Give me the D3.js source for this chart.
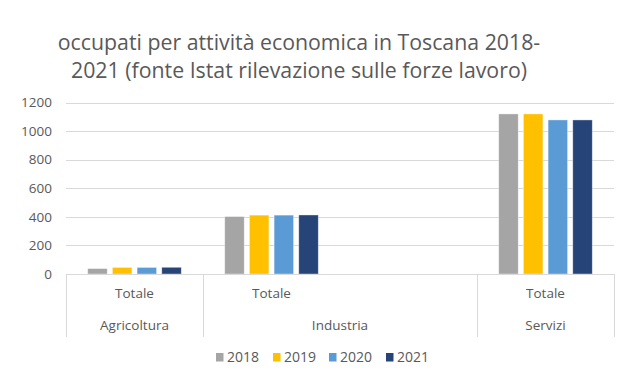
<!DOCTYPE html>
<html>
<head>
<meta charset="utf-8">
<script src="https://cdn.jsdelivr.net/npm/d3@7/dist/d3.min.js"></script>
<style>
  html, body { margin: 0; padding: 0; background: #fff; }
  svg { display: block; }
  text { font-family: "Open Sans", sans-serif; fill: #595959; }
</style>
</head>
<body>
<svg id="chart" width="629" height="376"></svg>
<script>
// ---- data ----
const titleLines = ["occupati per attività economica in Toscana 2018-", "2021 (fonte Istat rilevazione sulle forze lavoro)"];
const groups = ["Agricoltura", "Industria", "Industria", "Servizi"];
const subcategories = ["Totale", "Totale", "", "Totale"];
const years = ["2018", "2019", "2020", "2021"];
const values2018 = [38, 402, null, 1120];
const values2019 = [46, 412, null, 1120];
const values2020 = [46, 412, null, 1078];
const values2021 = [47, 413, null, 1078];
const yTicks = [0, 200, 400, 600, 800, 1000, 1200];

const series = [values2018, values2019, values2020, values2021];
const colors = ["#A5A5A5", "#FFC000", "#5B9BD5", "#264478"];

const svg = d3.select("#chart");
const plotLeft = 66, plotRight = 614, plotTop = 102.5, plotBottom = 274;

const slots = subcategories.map((s, i) => i);
const x = d3.scaleBand().domain(slots).range([plotLeft, plotRight]).padding(0);
const xi = d3.scaleBand().domain(years).range([0, x.bandwidth()]).paddingInner(0.21).paddingOuter(0.88);
const y = d3.scaleLinear().domain([0, 1200]).range([plotBottom, plotTop]);

// title
const title = svg.append("text").attr("text-anchor", "middle").style("font-size", "21.3px");
titleLines.forEach((t, i) => {
  title.append("tspan").attr("x", 299).attr("y", 50 + i * 28).text(t);
});

// gridlines
svg.append("g").selectAll("line").data(yTicks.filter(d => d > 0)).join("line")
  .attr("x1", plotLeft).attr("x2", plotRight)
  .attr("y1", d => Math.round(y(d)) + 0.5).attr("y2", d => Math.round(y(d)) + 0.5)
  .attr("stroke", "#D9D9D9").attr("stroke-width", 1);

// y axis labels
const yAxis = d3.axisLeft(y).tickValues(yTicks).tickFormat(d3.format("d")).tickSize(0).tickPadding(14);
const gy = svg.append("g").attr("transform", `translate(${plotLeft},0)`).call(yAxis);
gy.select(".domain").remove();
gy.selectAll("text").style("font-size", "13.5px").attr("fill", "#595959").style("font-family", "'Open Sans', sans-serif");

// bars
const barG = svg.append("g");
series.forEach((vals, si) => {
  barG.append("g").selectAll("rect")
    .data(vals.map((v, i) => ({ v, i })).filter(d => d.v !== null))
    .join("rect")
    .attr("x", d => x(d.i) + xi(years[si]))
    .attr("width", xi.bandwidth())
    .attr("y", d => y(d.v))
    .attr("height", d => y(0) - y(d.v))
    .attr("fill", colors[si])
    .attr("stroke", "#ffffff").attr("stroke-opacity", 0.5).attr("stroke-width", 0.75);
});

// category axis baseline
svg.append("line").attr("x1", plotLeft).attr("x2", plotRight)
  .attr("y1", plotBottom + 0.5).attr("y2", plotBottom + 0.5)
  .attr("stroke", "#D9D9D9");

// group spans
const spans = [];
groups.forEach((g, i) => {
  if (spans.length && spans[spans.length - 1].name === g) spans[spans.length - 1].end = i;
  else spans.push({ name: g, start: i, end: i });
});
const sepX = [plotLeft];
spans.forEach(s => sepX.push(x(s.end) + x.bandwidth()));
svg.append("g").selectAll("line").data(sepX).join("line")
  .attr("x1", d => Math.round(d) + 0.5).attr("x2", d => Math.round(d) + 0.5)
  .attr("y1", plotBottom).attr("y2", 337)
  .attr("stroke", "#D9D9D9");

// sub labels
svg.append("g").selectAll("text").data(subcategories.map((s, i) => ({ s, i })).filter(d => d.s))
  .join("text")
  .attr("x", d => x(d.i) + x.bandwidth() / 2)
  .attr("y", 298)
  .attr("text-anchor", "middle").style("font-size", "13.5px")
  .text(d => d.s);

// group labels
svg.append("g").selectAll("text").data(spans).join("text")
  .attr("x", d => (x(d.start) + x(d.end) + x.bandwidth()) / 2)
  .attr("y", 330)
  .attr("text-anchor", "middle").style("font-size", "13.5px")
  .text(d => d.name);

// legend
const legendX = [216, 273, 329, 386];
const lg = svg.append("g").selectAll("g").data(years).join("g")
  .attr("transform", (d, i) => `translate(${legendX[i]},353)`);
lg.append("rect").attr("width", 7.5).attr("height", 8.5).attr("fill", (d, i) => colors[i]);
lg.append("text").attr("x", 11).attr("y", 9).style("font-size", "14px").text(d => d);
</script>
</body>
</html>
